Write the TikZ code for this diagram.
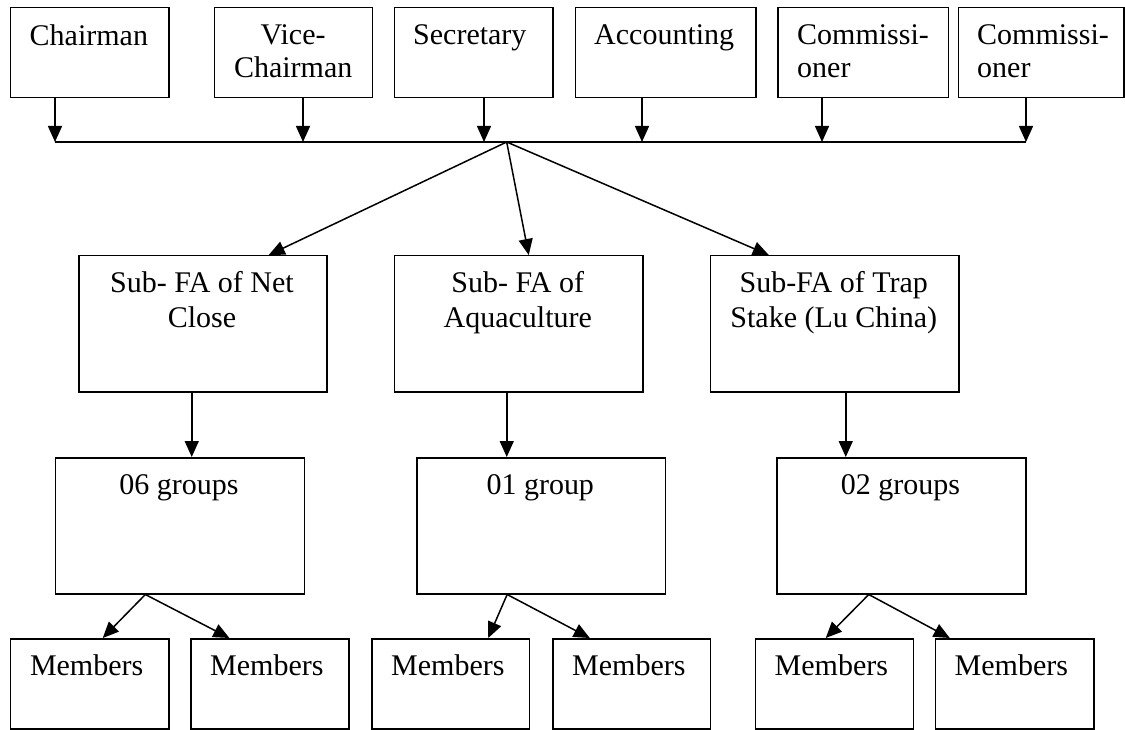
\documentclass[tikz,border=0pt]{standalone}
\usepackage{fontspec}
\setmainfont{Liberation Serif}
\usetikzlibrary{arrows.meta}
\begin{document}
\begin{tikzpicture}[x=1pt,y=-1pt,
  frame/.style={draw, line width=1.5pt, inner sep=0pt, anchor=north west},
  caption/.style={inner sep=0pt, font=\fontsize{30}{33}\selectfont},
  captwo/.style={inner sep=0pt, font=\fontsize{30}{35}\selectfont, align=center, anchor=north},
  link/.style={line width=1.5pt, -{Triangle[length=16pt,width=14pt]}},
  bus/.style={line width=1.5pt}]
\useasboundingbox (0,0) rectangle (1125,730);

% board members
\node[frame, minimum width=158.5pt, minimum height=90pt] (ch) at (9.5,7) {};
\node[frame, minimum width=158pt,   minimum height=90pt] (vc) at (213.5,7) {};
\node[frame, minimum width=158.5pt, minimum height=90pt] (se) at (393.5,7) {};
\node[frame, minimum width=180.5pt, minimum height=90pt] (ac) at (574.5,7) {};
\node[frame, minimum width=170.5pt, minimum height=90pt] (c1) at (777,7) {};
\node[frame, minimum width=165.5pt, minimum height=90pt] (c2) at (957.5,7) {};

\node[caption, anchor=north west] (ch-t) at (29.5,24.5) {Chairman};
\node[caption, anchor=north west, align=center] (vc-t) at (233.8,24.5) {Vice-\\Chairman};
\node[caption, anchor=north west] (se-t) at (413,24.5) {Secretary};
\node[caption, anchor=north west] (ac-t) at (594,24.5) {Accounting};
\node[caption, anchor=north west, align=left] (c1-t) at (797,24.5) {Commissi-\\oner};
\node[caption, anchor=north west, align=left] (c2-t) at (977,24.5) {Commissi-\\oner};

% sub fishery associations
\node[frame, minimum width=248pt,   minimum height=136pt] (net)  at (78,255) {};
\node[frame, minimum width=248.5pt, minimum height=136pt] (aqua) at (393.5,255) {};
\node[frame, minimum width=248.5pt, minimum height=136pt] (trap) at (709.5,255) {};

\node[captwo] (net-t)  at (202,271) {Sub- FA of Net\\Close};
\node[captwo] (aqua-t) at (517.75,271) {Sub- FA of\\Aquaculture};
\node[captwo] (trap-t) at (833.75,271) {Sub-FA of Trap\\Stake (Lu China)};

% groups
\node[frame, minimum width=249pt,   minimum height=136pt] (g1) at (54.5,457) {};
\node[frame, minimum width=248.5pt, minimum height=136pt] (g2) at (416,457) {};
\node[frame, minimum width=249pt,   minimum height=136pt] (g3) at (776,457) {};

\node[caption, anchor=north] (g1-t) at (179,474.5) {06 groups};
\node[caption, anchor=north] (g2-t) at (540.25,474.5) {01 group};
\node[caption, anchor=north] (g3-t) at (900.5,474.5) {02 groups};

% members
\node[frame, minimum width=158.5pt, minimum height=90pt] (m1) at (9.5,638) {};
\node[frame, minimum width=158pt,   minimum height=90pt] (m2) at (190,638) {};
\node[frame, minimum width=157.5pt, minimum height=90pt] (m3) at (371,638) {};
\node[frame, minimum width=157.5pt, minimum height=90pt] (m4) at (552,638) {};
\node[frame, minimum width=158pt,   minimum height=90pt] (m5) at (754.5,638) {};
\node[frame, minimum width=158.5pt, minimum height=90pt] (m6) at (934.5,638) {};

\node[caption, anchor=north west] (m1-t) at (29.8,654.5) {Members};
\node[caption, anchor=north west] (m2-t) at (210,654.5) {Members};
\node[caption, anchor=north west] (m3-t) at (391,654.5) {Members};
\node[caption, anchor=north west] (m4-t) at (572,654.5) {Members};
\node[caption, anchor=north west] (m5-t) at (774.5,654.5) {Members};
\node[caption, anchor=north west] (m6-t) at (954.5,654.5) {Members};

% common bus under the board
\coordinate (b1) at (55,142);
\coordinate (b2) at (303,142);
\coordinate (b3) at (484,142);
\coordinate (b4) at (642,142);
\coordinate (b5) at (822,142);
\coordinate (b6) at (1026,142);
\coordinate (hub) at (506.7,142);

\draw[link] (ch.south -| b1) -- (b1);
\draw[link] (vc.south -| b2) -- (b2);
\draw[link] (se.south -| b3) -- (b3);
\draw[link] (ac.south -| b4) -- (b4);
\draw[link] (c1.south -| b5) -- (b5);
\draw[link] (c2.south -| b6) -- (b6);
\draw[bus] (b1) -- (b6);

% board to sub associations
\draw[link] (hub) -- ([xshift=66pt]net.north);
\draw[link] (hub) -- ([xshift=10.25pt]aqua.north);
\draw[link] (hub) -- ([xshift=-65.75pt]trap.north);

% sub associations to groups
\draw[link] ([xshift=-11pt]net.south) -- ([xshift=-11pt]net.south |- g1.north);
\draw[link] ([xshift=-11.75pt]aqua.south) -- ([xshift=-11.75pt]aqua.south |- g2.north);
\draw[link] ([xshift=11.25pt]trap.south) -- ([xshift=11.25pt]trap.south |- g3.north);

% groups to members
\draw[link] ([xshift=-34.4pt]g1.south) -- ([xshift=13.25pt]m1.north);
\draw[link] ([xshift=-34.4pt]g1.south) -- ([xshift=-40.4pt]m2.north);
\draw[link] ([xshift=-33.85pt]g2.south) -- ([xshift=37.75pt]m3.north);
\draw[link] ([xshift=-33.85pt]g2.south) -- ([xshift=-41.75pt]m4.north);
\draw[link] ([xshift=-32.5pt]g3.south) -- ([xshift=-8.5pt]m5.north);
\draw[link] ([xshift=-32.5pt]g3.south) -- ([xshift=-64.75pt]m6.north);
\end{tikzpicture}
\end{document}
